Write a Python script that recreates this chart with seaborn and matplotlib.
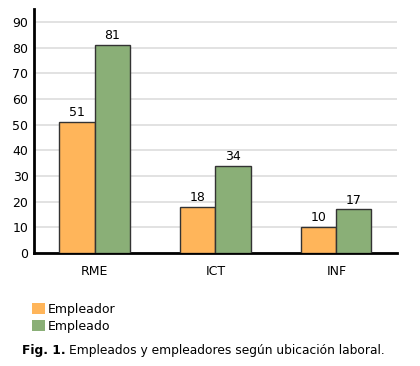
import matplotlib
matplotlib.use("Agg")
import matplotlib.pyplot as plt
import seaborn as sns
import pandas as pd
from matplotlib.patches import Patch

categories = ["RME", "ICT", "INF"]
series_names = ["Empleador", "Empleado"]
empleador = [51, 18, 10]
empleado = [81, 34, 17]
colors = ["#FFB55A", "#8AAF77"]

df = pd.DataFrame({
    "cat": categories * 2,
    "serie": [series_names[0]] * 3 + [series_names[1]] * 3,
    "val": empleador + empleado,
})

sns.set_theme(style="white")
plt.rcParams["font.family"] = ["DejaVu Sans"]
plt.rcParams["text.color"] = "black"

fig = plt.figure(figsize=(4.2, 3.66), dpi=100)
ax = fig.add_axes([0.081, 0.309, 0.864, 0.666])

sns.barplot(data=df, x="cat", y="val", hue="serie", palette=colors,
            width=0.58, gap=0, edgecolor="#333333", linewidth=1.0,
            saturation=1, ax=ax, legend=False, zorder=3)

for cont in ax.containers:
    ax.bar_label(cont, fontsize=9, padding=2, color="black")

ax.set_xlim(-0.5, 2.5)
ax.set_ylim(0, 95)
ax.set_yticks(range(0, 91, 10))
ax.yaxis.grid(True, color="#dddddd", linewidth=1.2, zorder=0)
ax.set_axisbelow(True)
ax.set_xlabel("")
ax.set_ylabel("")
ax.tick_params(axis="both", length=0, labelsize=9, colors="black")
ax.tick_params(axis="x", pad=9)
ax.tick_params(axis="y", pad=4)
for s in ["top", "right"]:
    ax.spines[s].set_visible(False)
for s in ["left", "bottom"]:
    ax.spines[s].set_color("black")
    ax.spines[s].set_linewidth(2)

handles = [Patch(facecolor=c, edgecolor="none") for c in colors]
fig.legend(handles, series_names, loc="upper left", bbox_to_anchor=(0.077, 0.172),
           frameon=False, fontsize=9, handlelength=1.0, handleheight=1.0,
           handletextpad=0.25, labelspacing=0.3, borderpad=0, borderaxespad=0,
           labelcolor="black")

y_cap = 0.033
t1 = fig.text(0.052, y_cap, "Fig. 1.", fontsize=8.8, fontweight="bold",
              ha="left", va="baseline", color="black")
fig.canvas.draw()
bb = t1.get_window_extent()
x2 = (bb.x1 + 4) / fig.bbox.width
fig.text(x2, y_cap, "Empleados y empleadores según ubicación laboral.",
         fontsize=8.8, ha="left", va="baseline", color="black")

fig.savefig("out.png", dpi=100)
